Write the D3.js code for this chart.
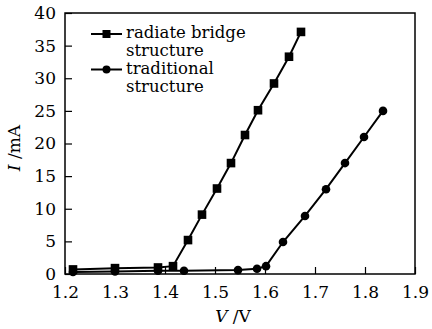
<!DOCTYPE html>
<html>
<head>
<meta charset="utf-8">
<script src="https://cdn.jsdelivr.net/npm/d3@7"></script>
<style>
  body { margin: 0; background: #fff; }
</style>
</head>
<body>
<div id="chart"></div>
<script>
// data
var seriesNames = ["radiate bridge structure", "traditional structure"];
var bridgeV = [1.216, 1.30, 1.386, 1.416, 1.446, 1.474, 1.504, 1.532, 1.56, 1.586, 1.618, 1.648, 1.672];
var bridgeI = [0.7, 0.9, 1.0, 1.2, 5.2, 9.1, 13.1, 17.0, 21.3, 25.1, 29.2, 33.3, 37.1];
var tradV = [1.216, 1.30, 1.386, 1.438, 1.546, 1.584, 1.602, 1.636, 1.68, 1.722, 1.76, 1.798, 1.836];
var tradI = [0.3, 0.4, 0.5, 0.5, 0.6, 0.8, 1.2, 4.9, 8.9, 13.0, 17.0, 21.0, 25.0];
var xTicks = [1.2, 1.3, 1.4, 1.5, 1.6, 1.7, 1.8, 1.9];
var yTicks = [0, 5, 10, 15, 20, 25, 30, 35, 40];

var FONT = "'DejaVu Serif', 'Liberation Serif', serif";

var W = 432, H = 329;
var margin = { top: 13, right: 17, bottom: 55, left: 65 };
var width = W - margin.left - margin.right,
    height = H - margin.top - margin.bottom;

var svg = d3.select("#chart").append("svg")
    .attr("width", W)
    .attr("height", H);

var g = svg.append("g")
    .attr("transform", "translate(" + margin.left + "," + margin.top + ")");

var x = d3.scaleLinear().domain([1.2, 1.9]).range([0, width]);
var y = d3.scaleLinear().domain([0, 40]).range([height, 0]);

// frame
g.append("rect")
    .attr("width", width)
    .attr("height", height)
    .attr("fill", "none")
    .attr("stroke", "#000")
    .attr("stroke-width", 1.5);

// axes, ticks pointing inside
var xAxis = d3.axisBottom(x).tickValues(xTicks).tickSizeInner(-7).tickSizeOuter(0)
    .tickPadding(12).tickFormat(d3.format(".1f"));
var yAxis = d3.axisLeft(y).tickValues(yTicks).tickSizeInner(-7).tickSizeOuter(0)
    .tickPadding(9);

var gx = g.append("g").attr("transform", "translate(0," + height + ")").call(xAxis);
var gy = g.append("g").call(yAxis);
[gx, gy].forEach(function (a) {
    a.attr("font-family", null);
    a.select(".domain").remove();
    a.selectAll("line").attr("stroke", "#000").attr("stroke-width", 1.2);
    a.selectAll("text").attr("font-size", 17).attr("fill", "#000");
});

// series
var bridge = bridgeV.map(function (v, i) { return [v, bridgeI[i]]; });
var trad = tradV.map(function (v, i) { return [v, tradI[i]]; });

var line = d3.line()
    .x(function (d) { return x(d[0]); })
    .y(function (d) { return y(d[1]); });

[trad, bridge].forEach(function (s) {
    g.append("path")
        .datum(s)
        .attr("d", line)
        .attr("fill", "none")
        .attr("stroke", "#000")
        .attr("stroke-width", 2);
});

g.selectAll(".circ")
    .data(trad)
    .enter().append("circle")
    .attr("cx", function (d) { return x(d[0]); })
    .attr("cy", function (d) { return y(d[1]); })
    .attr("r", 4.3)
    .attr("fill", "#000");

g.selectAll(".sq")
    .data(bridge)
    .enter().append("rect")
    .attr("x", function (d) { return x(d[0]) - 4.3; })
    .attr("y", function (d) { return y(d[1]) - 4.3; })
    .attr("width", 8.6)
    .attr("height", 8.6)
    .attr("fill", "#000");

// legend
var legend = svg.append("g").attr("transform", "translate(91,34)");
var legRows = [
    { lines: ["radiate bridge", "structure"], mark: "square" },
    { lines: ["traditional", "structure"], mark: "circle" }
];
legRows.forEach(function (r, i) {
    var ly = i * 35.5;
    legend.append("line")
        .attr("x1", 0).attr("x2", 31)
        .attr("y1", ly).attr("y2", ly)
        .attr("stroke", "#000").attr("stroke-width", 2);
    if (r.mark === "square") {
        legend.append("rect").attr("x", 11.5).attr("y", ly - 4).attr("width", 8).attr("height", 8);
    } else {
        legend.append("circle").attr("cx", 15.5).attr("cy", ly).attr("r", 4);
    }
    r.lines.forEach(function (t, j) {
        legend.append("text")
            .attr("x", 35)
            .attr("y", ly + 4 + j * 18)
            .attr("font-size", 16.5)
            .text(t);
    });
});

// axis titles
svg.append("text")
    .attr("x", 233)
    .attr("y", 322)
    .attr("text-anchor", "middle")
    .attr("font-size", 17)
    .html('<tspan font-style="italic">V</tspan> /V');

svg.append("text")
    .attr("transform", "translate(20,148) rotate(-90)")
    .attr("text-anchor", "middle")
    .attr("font-size", 17)
    .html('<tspan font-style="italic">I</tspan> /mA');

svg.selectAll("text").style("font-family", FONT);
</script>
</body>
</html>
